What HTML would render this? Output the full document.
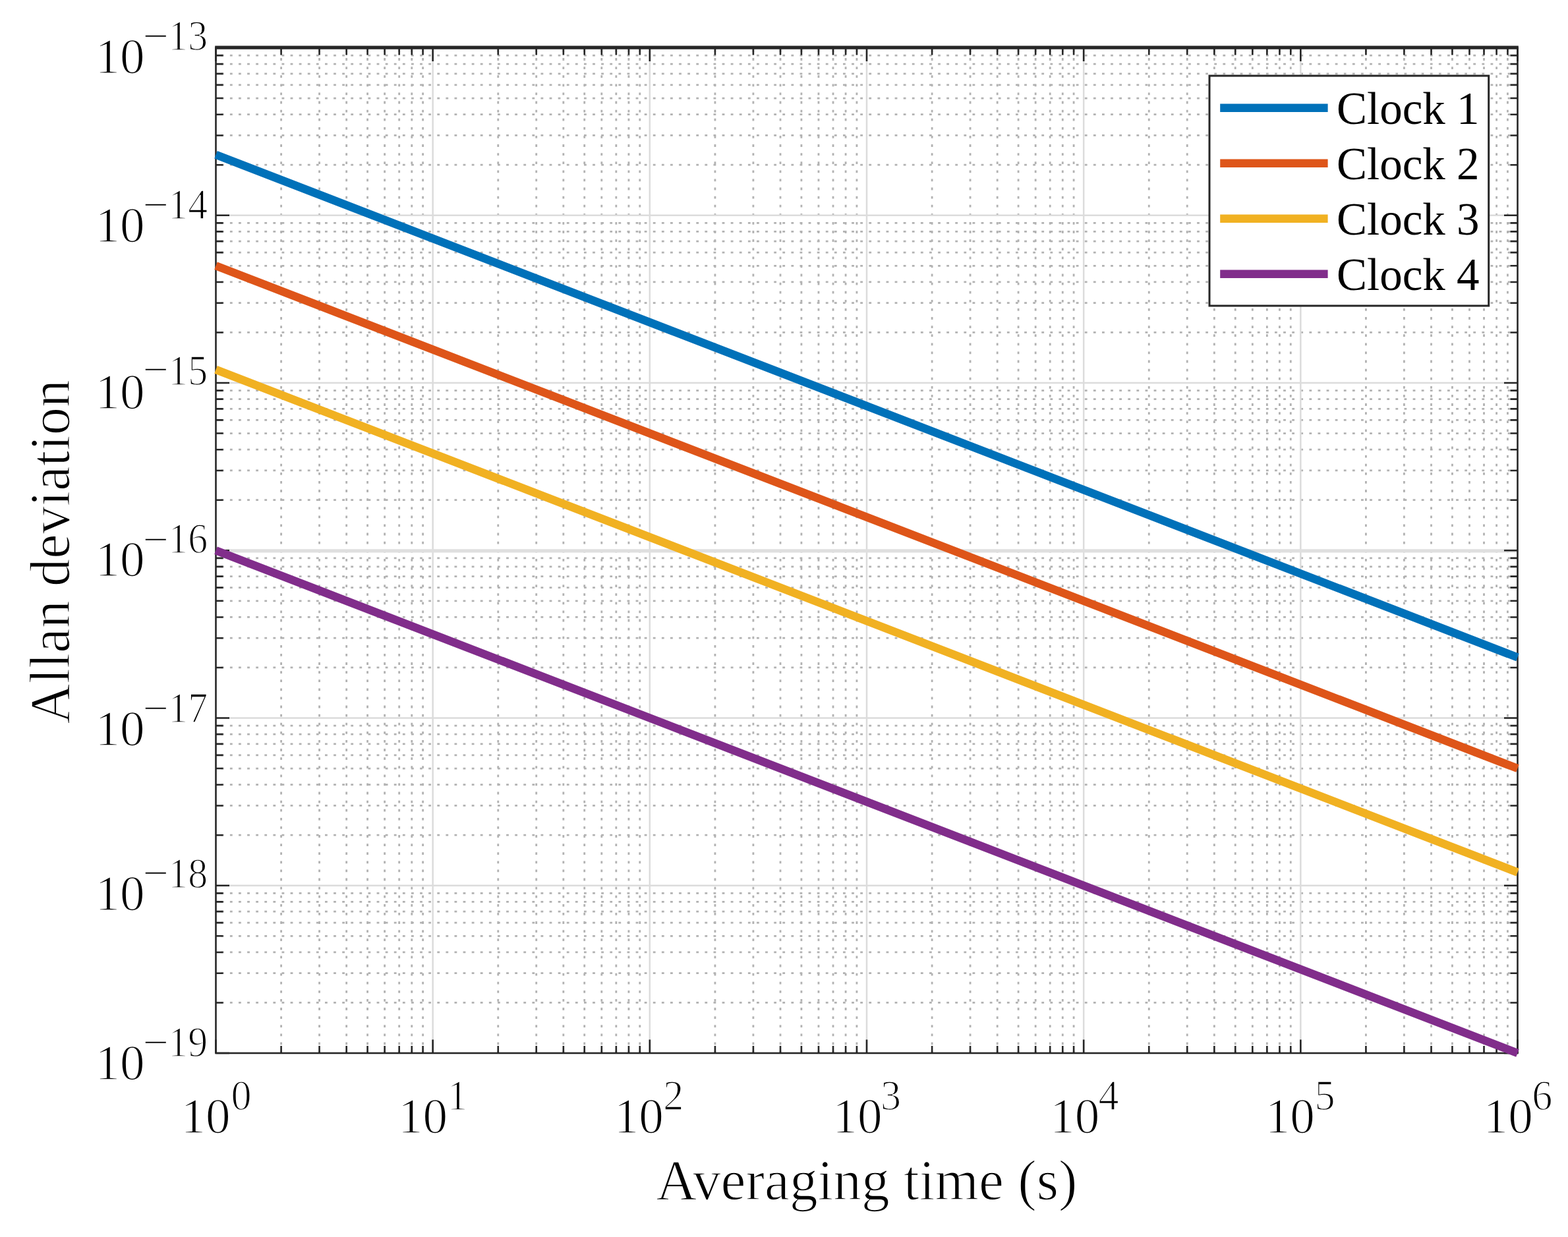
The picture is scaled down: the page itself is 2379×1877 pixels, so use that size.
<!DOCTYPE html><html><head><meta charset="utf-8"><title>Allan deviation</title><style>html,body{margin:0;padding:0;background:#fff}svg{display:block}svg text{font-family:"Liberation Serif",serif}</style></head><body>
<svg width="2379" height="1877" viewBox="0 0 2379 1877">
<rect x="0" y="0" width="2379" height="1877" fill="#fff"/>
<path d="M426.59 72.5V1598.0M484.55 72.5V1598.0M525.68 72.5V1598.0M557.58 72.5V1598.0M583.64 72.5V1598.0M605.68 72.5V1598.0M624.77 72.5V1598.0M641.60 72.5V1598.0M755.76 72.5V1598.0M813.72 72.5V1598.0M854.84 72.5V1598.0M886.74 72.5V1598.0M912.81 72.5V1598.0M934.84 72.5V1598.0M953.93 72.5V1598.0M970.77 72.5V1598.0M1084.92 72.5V1598.0M1142.89 72.5V1598.0M1184.01 72.5V1598.0M1215.91 72.5V1598.0M1241.97 72.5V1598.0M1264.01 72.5V1598.0M1283.10 72.5V1598.0M1299.94 72.5V1598.0M1414.09 72.5V1598.0M1472.05 72.5V1598.0M1513.18 72.5V1598.0M1545.08 72.5V1598.0M1571.14 72.5V1598.0M1593.18 72.5V1598.0M1612.27 72.5V1598.0M1629.10 72.5V1598.0M1743.26 72.5V1598.0M1801.22 72.5V1598.0M1842.34 72.5V1598.0M1874.24 72.5V1598.0M1900.31 72.5V1598.0M1922.34 72.5V1598.0M1941.43 72.5V1598.0M1958.27 72.5V1598.0M2072.42 72.5V1598.0M2130.39 72.5V1598.0M2171.51 72.5V1598.0M2203.41 72.5V1598.0M2229.47 72.5V1598.0M2251.51 72.5V1598.0M2270.60 72.5V1598.0M2287.44 72.5V1598.0" stroke="#b2b2b2" stroke-width="2.8" stroke-dasharray="3.8 9.3" stroke-dashoffset="10.6" fill="none"/>
<path d="M327.5 1521.46H2302.5M327.5 1476.69H2302.5M327.5 1444.93H2302.5M327.5 1420.29H2302.5M327.5 1400.16H2302.5M327.5 1383.13H2302.5M327.5 1368.39H2302.5M327.5 1355.38H2302.5M327.5 1267.21H2302.5M327.5 1222.44H2302.5M327.5 1190.68H2302.5M327.5 1166.04H2302.5M327.5 1145.91H2302.5M327.5 1128.88H2302.5M327.5 1114.14H2302.5M327.5 1101.13H2302.5M327.5 1012.96H2302.5M327.5 968.19H2302.5M327.5 936.43H2302.5M327.5 911.79H2302.5M327.5 891.66H2302.5M327.5 874.63H2302.5M327.5 859.89H2302.5M327.5 846.88H2302.5M327.5 758.71H2302.5M327.5 713.94H2302.5M327.5 682.18H2302.5M327.5 657.54H2302.5M327.5 637.41H2302.5M327.5 620.38H2302.5M327.5 605.64H2302.5M327.5 592.63H2302.5M327.5 504.46H2302.5M327.5 459.69H2302.5M327.5 427.93H2302.5M327.5 403.29H2302.5M327.5 383.16H2302.5M327.5 366.13H2302.5M327.5 351.39H2302.5M327.5 338.38H2302.5M327.5 250.21H2302.5M327.5 205.44H2302.5M327.5 173.68H2302.5M327.5 149.04H2302.5M327.5 128.91H2302.5M327.5 111.88H2302.5M327.5 97.14H2302.5M327.5 84.13H2302.5" stroke="#b2b2b2" stroke-width="2.8" stroke-dasharray="3.8 9.3" stroke-dashoffset="4.8" fill="none"/>
<path d="M656.67 72.5V1598.0M985.83 72.5V1598.0M1315.00 72.5V1598.0M1644.17 72.5V1598.0M1973.33 72.5V1598.0M327.5 1343.75H2302.5M327.5 1089.50H2302.5M327.5 581.00H2302.5M327.5 326.75H2302.5" stroke="#dcdcdc" stroke-width="2.5" fill="none"/>
<path d="M327.5 835.85H2302.5" stroke="#dfdfdf" stroke-width="5.4" fill="none"/>
<path d="M327.50 1598.0v-20.5M327.50 72.5v20.5M426.59 1598.0v-11.0M426.59 72.5v11.0M484.55 1598.0v-11.0M484.55 72.5v11.0M525.68 1598.0v-11.0M525.68 72.5v11.0M557.58 1598.0v-11.0M557.58 72.5v11.0M583.64 1598.0v-11.0M583.64 72.5v11.0M605.68 1598.0v-11.0M605.68 72.5v11.0M624.77 1598.0v-11.0M624.77 72.5v11.0M641.60 1598.0v-11.0M641.60 72.5v11.0M656.67 1598.0v-20.5M656.67 72.5v20.5M755.76 1598.0v-11.0M755.76 72.5v11.0M813.72 1598.0v-11.0M813.72 72.5v11.0M854.84 1598.0v-11.0M854.84 72.5v11.0M886.74 1598.0v-11.0M886.74 72.5v11.0M912.81 1598.0v-11.0M912.81 72.5v11.0M934.84 1598.0v-11.0M934.84 72.5v11.0M953.93 1598.0v-11.0M953.93 72.5v11.0M970.77 1598.0v-11.0M970.77 72.5v11.0M985.83 1598.0v-20.5M985.83 72.5v20.5M1084.92 1598.0v-11.0M1084.92 72.5v11.0M1142.89 1598.0v-11.0M1142.89 72.5v11.0M1184.01 1598.0v-11.0M1184.01 72.5v11.0M1215.91 1598.0v-11.0M1215.91 72.5v11.0M1241.97 1598.0v-11.0M1241.97 72.5v11.0M1264.01 1598.0v-11.0M1264.01 72.5v11.0M1283.10 1598.0v-11.0M1283.10 72.5v11.0M1299.94 1598.0v-11.0M1299.94 72.5v11.0M1315.00 1598.0v-20.5M1315.00 72.5v20.5M1414.09 1598.0v-11.0M1414.09 72.5v11.0M1472.05 1598.0v-11.0M1472.05 72.5v11.0M1513.18 1598.0v-11.0M1513.18 72.5v11.0M1545.08 1598.0v-11.0M1545.08 72.5v11.0M1571.14 1598.0v-11.0M1571.14 72.5v11.0M1593.18 1598.0v-11.0M1593.18 72.5v11.0M1612.27 1598.0v-11.0M1612.27 72.5v11.0M1629.10 1598.0v-11.0M1629.10 72.5v11.0M1644.17 1598.0v-20.5M1644.17 72.5v20.5M1743.26 1598.0v-11.0M1743.26 72.5v11.0M1801.22 1598.0v-11.0M1801.22 72.5v11.0M1842.34 1598.0v-11.0M1842.34 72.5v11.0M1874.24 1598.0v-11.0M1874.24 72.5v11.0M1900.31 1598.0v-11.0M1900.31 72.5v11.0M1922.34 1598.0v-11.0M1922.34 72.5v11.0M1941.43 1598.0v-11.0M1941.43 72.5v11.0M1958.27 1598.0v-11.0M1958.27 72.5v11.0M1973.33 1598.0v-20.5M1973.33 72.5v20.5M2072.42 1598.0v-11.0M2072.42 72.5v11.0M2130.39 1598.0v-11.0M2130.39 72.5v11.0M2171.51 1598.0v-11.0M2171.51 72.5v11.0M2203.41 1598.0v-11.0M2203.41 72.5v11.0M2229.47 1598.0v-11.0M2229.47 72.5v11.0M2251.51 1598.0v-11.0M2251.51 72.5v11.0M2270.60 1598.0v-11.0M2270.60 72.5v11.0M2287.44 1598.0v-11.0M2287.44 72.5v11.0M2302.50 1598.0v-20.5M2302.50 72.5v20.5M327.5 1598.00h20.5M2302.5 1598.00h-20.5M327.5 1521.46h11.0M2302.5 1521.46h-11.0M327.5 1476.69h11.0M2302.5 1476.69h-11.0M327.5 1444.93h11.0M2302.5 1444.93h-11.0M327.5 1420.29h11.0M2302.5 1420.29h-11.0M327.5 1400.16h11.0M2302.5 1400.16h-11.0M327.5 1383.13h11.0M2302.5 1383.13h-11.0M327.5 1368.39h11.0M2302.5 1368.39h-11.0M327.5 1355.38h11.0M2302.5 1355.38h-11.0M327.5 1343.75h20.5M2302.5 1343.75h-20.5M327.5 1267.21h11.0M2302.5 1267.21h-11.0M327.5 1222.44h11.0M2302.5 1222.44h-11.0M327.5 1190.68h11.0M2302.5 1190.68h-11.0M327.5 1166.04h11.0M2302.5 1166.04h-11.0M327.5 1145.91h11.0M2302.5 1145.91h-11.0M327.5 1128.88h11.0M2302.5 1128.88h-11.0M327.5 1114.14h11.0M2302.5 1114.14h-11.0M327.5 1101.13h11.0M2302.5 1101.13h-11.0M327.5 1089.50h20.5M2302.5 1089.50h-20.5M327.5 1012.96h11.0M2302.5 1012.96h-11.0M327.5 968.19h11.0M2302.5 968.19h-11.0M327.5 936.43h11.0M2302.5 936.43h-11.0M327.5 911.79h11.0M2302.5 911.79h-11.0M327.5 891.66h11.0M2302.5 891.66h-11.0M327.5 874.63h11.0M2302.5 874.63h-11.0M327.5 859.89h11.0M2302.5 859.89h-11.0M327.5 846.88h11.0M2302.5 846.88h-11.0M327.5 835.25h20.5M2302.5 835.25h-20.5M327.5 758.71h11.0M2302.5 758.71h-11.0M327.5 713.94h11.0M2302.5 713.94h-11.0M327.5 682.18h11.0M2302.5 682.18h-11.0M327.5 657.54h11.0M2302.5 657.54h-11.0M327.5 637.41h11.0M2302.5 637.41h-11.0M327.5 620.38h11.0M2302.5 620.38h-11.0M327.5 605.64h11.0M2302.5 605.64h-11.0M327.5 592.63h11.0M2302.5 592.63h-11.0M327.5 581.00h20.5M2302.5 581.00h-20.5M327.5 504.46h11.0M2302.5 504.46h-11.0M327.5 459.69h11.0M2302.5 459.69h-11.0M327.5 427.93h11.0M2302.5 427.93h-11.0M327.5 403.29h11.0M2302.5 403.29h-11.0M327.5 383.16h11.0M2302.5 383.16h-11.0M327.5 366.13h11.0M2302.5 366.13h-11.0M327.5 351.39h11.0M2302.5 351.39h-11.0M327.5 338.38h11.0M2302.5 338.38h-11.0M327.5 326.75h20.5M2302.5 326.75h-20.5M327.5 250.21h11.0M2302.5 250.21h-11.0M327.5 205.44h11.0M2302.5 205.44h-11.0M327.5 173.68h11.0M2302.5 173.68h-11.0M327.5 149.04h11.0M2302.5 149.04h-11.0M327.5 128.91h11.0M2302.5 128.91h-11.0M327.5 111.88h11.0M2302.5 111.88h-11.0M327.5 97.14h11.0M2302.5 97.14h-11.0M327.5 84.13h11.0M2302.5 84.13h-11.0M327.5 72.50h20.5M2302.5 72.50h-20.5" stroke="#262626" stroke-width="2.6" fill="none"/>
<rect x="327.5" y="72.5" width="1975.0" height="1525.5" fill="none" stroke="#262626" stroke-width="2.6"/>
<path d="M326.2 72.1H2303.8" stroke="#262626" stroke-width="5.4"/>
<g>
<path d="M327.5 234.78L2302.5 997.53" stroke="#0071B9" stroke-width="12.5" fill="none"/>
<path d="M327.5 403.29L2302.5 1166.04" stroke="#DE5519" stroke-width="12.5" fill="none"/>
<path d="M327.5 560.87L2302.5 1323.62" stroke="#F1B122" stroke-width="12.5" fill="none"/>
<path d="M327.5 835.25L2302.5 1598.00" stroke="#812D8B" stroke-width="12.5" fill="none"/>
</g>
<g fill="#000" stroke="#fff" stroke-width="1.5">
<text x="144.5" y="111.00" font-size="75.2">10</text>
<text x="216.5" y="78.00" font-size="70">−</text>
<text transform="translate(255.3 76.10) scale(0.98 1.06)" font-size="61">13</text>
<text x="144.5" y="366.95" font-size="75.2">10</text>
<text x="216.5" y="334.25" font-size="70">−</text>
<text transform="translate(255.3 331.85) scale(0.98 1.06)" font-size="61">14</text>
<text x="144.5" y="619.50" font-size="75.2">10</text>
<text x="216.5" y="584.30" font-size="70">−</text>
<text transform="translate(255.3 584.30) scale(0.98 1.06)" font-size="61">15</text>
<text x="144.5" y="874.35" font-size="75.2">10</text>
<text x="216.5" y="841.55" font-size="70">−</text>
<text transform="translate(255.3 839.35) scale(0.98 1.06)" font-size="61">16</text>
<text x="144.5" y="1131.10" font-size="75.2">10</text>
<text x="216.5" y="1097.50" font-size="70">−</text>
<text transform="translate(255.3 1095.80) scale(0.98 1.06)" font-size="61">17</text>
<text x="144.5" y="1381.45" font-size="75.2">10</text>
<text x="216.5" y="1348.25" font-size="70">−</text>
<text transform="translate(255.3 1346.60) scale(0.98 1.06)" font-size="61">18</text>
<text x="144.5" y="1638.10" font-size="75.2">10</text>
<text x="216.5" y="1605.00" font-size="70">−</text>
<text transform="translate(255.3 1602.70) scale(0.98 1.06)" font-size="61">19</text>
<text x="274.50" y="1719" font-size="75.2">10</text>
<text transform="translate(350.50 1683.8) scale(1.02 1.06)" font-size="61">0</text>
<text x="603.97" y="1719" font-size="75.2">10</text>
<text transform="translate(678.57 1683.8) scale(1.02 1.06)" font-size="61">1</text>
<text x="931.73" y="1719" font-size="75.2">10</text>
<text transform="translate(1006.13 1683.8) scale(1.02 1.06)" font-size="61">2</text>
<text x="1263.30" y="1719" font-size="75.2">10</text>
<text transform="translate(1335.90 1683.8) scale(1.02 1.06)" font-size="61">3</text>
<text x="1593.07" y="1719" font-size="75.2">10</text>
<text transform="translate(1666.57 1683.8) scale(1.02 1.06)" font-size="61">4</text>
<text x="1919.63" y="1719" font-size="75.2">10</text>
<text transform="translate(1994.53 1683.8) scale(1.02 1.06)" font-size="61">5</text>
<text x="2250.60" y="1719" font-size="75.2">10</text>
<text transform="translate(2324.30 1683.8) scale(1.02 1.06)" font-size="61">6</text>
</g>
<g fill="#000" stroke="#fff" stroke-width="1.5">
<text transform="translate(1315.00 1819.5) scale(0.99 1)" font-size="86.3" text-anchor="middle">Averaging time (s)</text>
<text transform="translate(104.7 837.25) rotate(-90) scale(0.978 1)" font-size="86.3" text-anchor="middle">Allan deviation</text>
</g>
<rect x="1835" y="115" width="423.7" height="349" fill="#fff" stroke="#262626" stroke-width="3"/>
<path d="M1851.2 163.7H2014.6" stroke="#0071B9" stroke-width="12.5"/>
<text x="2028" y="188.4" font-size="69">Clock 1</text>
<path d="M1851.2 247.7H2014.6" stroke="#DE5519" stroke-width="12.5"/>
<text x="2028" y="272.4" font-size="69">Clock 2</text>
<path d="M1851.2 331.7H2014.6" stroke="#F1B122" stroke-width="12.5"/>
<text x="2028" y="356.4" font-size="69">Clock 3</text>
<path d="M1851.2 415.7H2014.6" stroke="#812D8B" stroke-width="12.5"/>
<text x="2028" y="440.4" font-size="69">Clock 4</text>
</svg></body></html>
